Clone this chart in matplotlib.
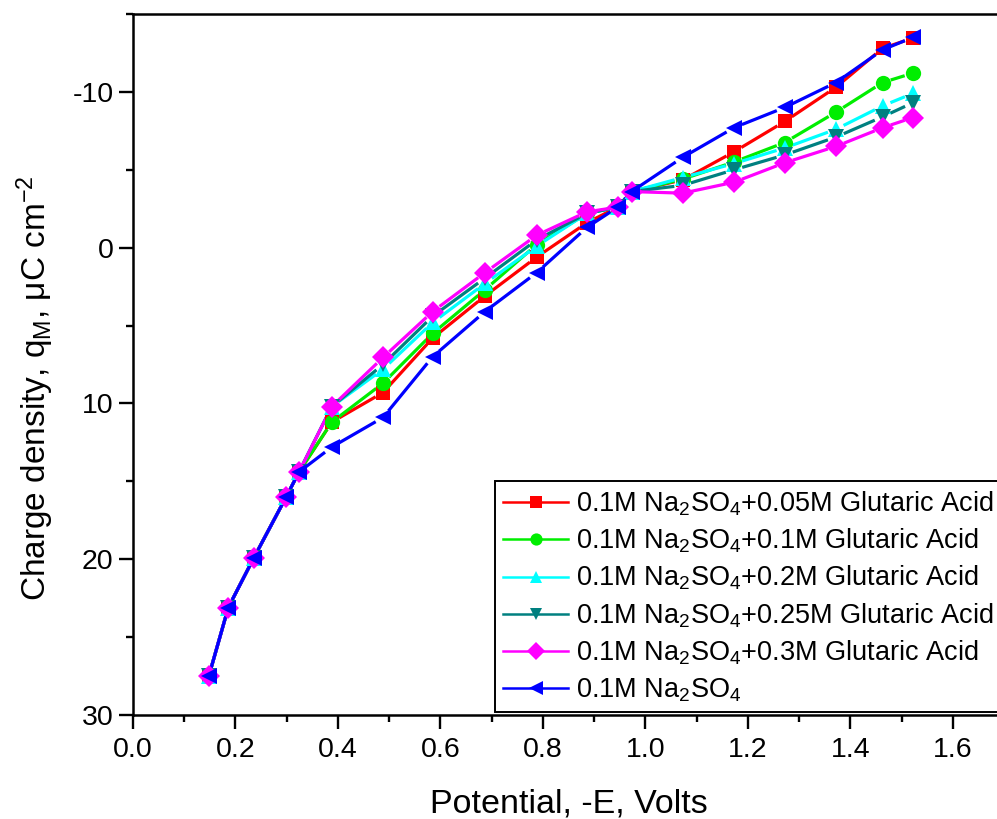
import matplotlib
matplotlib.use("Agg")
import numpy as np
import matplotlib.pyplot as plt
from matplotlib.ticker import MultipleLocator, FormatStrFormatter, FuncFormatter
from matplotlib.lines import Line2D

plt.rcParams['font.family'] = ['Liberation Sans', 'DejaVu Sans']
plt.rcParams['mathtext.fontset'] = 'custom'
plt.rcParams['mathtext.rm'] = 'Liberation Sans'
plt.rcParams['mathtext.it'] = 'Liberation Sans'
plt.rcParams['mathtext.default'] = 'regular'

potential = [0.148, 0.186, 0.236, 0.299, 0.324, 0.388, 0.488, 0.585, 0.687, 0.788,
             0.886, 0.946, 0.973, 1.073, 1.173, 1.272, 1.372, 1.463, 1.522]

q_005 = [27.5, 23.1, 19.9, 16.0, 14.4, 11.2, 9.3, 5.8, 3.1, 0.6,
         -1.6, -2.6, -3.6, -4.35, -6.15, -8.1, -10.3, -12.8, -13.45]
q_01 = [27.5, 23.1, 19.9, 16.0, 14.4, 11.2, 8.7, 5.5, 2.7, -0.2,
        -2.2, -2.6, -3.6, -4.4, -5.5, -6.75, -8.7, -10.6, -11.2]
q_02 = [27.5, 23.1, 19.9, 16.0, 14.4, 10.2, 7.8, 4.8, 2.3, -0.1,
        -2.2, -2.6, -3.6, -4.5, -5.4, -6.4, -7.6, -9.1, -9.9]
q_025 = [27.5, 23.1, 19.9, 16.0, 14.4, 10.2, 7.5, 4.4, 1.95, -0.5,
         -2.2, -2.6, -3.6, -4.0, -5.0, -5.95, -7.1, -8.4, -9.3]
q_03 = [27.5, 23.1, 19.9, 16.0, 14.4, 10.2, 7.05, 4.1, 1.6, -0.8,
        -2.3, -2.6, -3.6, -3.5, -4.2, -5.45, -6.5, -7.7, -8.35]
q_blank = [27.5, 23.1, 19.9, 16.0, 14.4, 12.8, 10.9, 7.0, 4.1, 1.6,
           -1.3, -2.6, -3.6, -5.8, -7.7, -9.0, -10.6, -12.7, -13.5]

labels = [
    '0.1M Na$_2$SO$_4$+0.05M Glutaric Acid',
    '0.1M Na$_2$SO$_4$+0.1M Glutaric Acid',
    '0.1M Na$_2$SO$_4$+0.2M Glutaric Acid',
    '0.1M Na$_2$SO$_4$+0.25M Glutaric Acid',
    '0.1M Na$_2$SO$_4$+0.3M Glutaric Acid',
    '0.1M Na$_2$SO$_4$',
]
series = [q_005, q_01, q_02, q_025, q_03, q_blank]
colors = ['#FF0000', '#00EE00', '#00FFFF', '#008080', '#FF00FF', '#0000FF']
markers = ['s', 'o', '^', 'v', 'D', '<']
msizes = [10, 11, 11.5, 11.5, 11.5, 12]

fig = plt.figure(figsize=(9.97, 8.19), dpi=100)
ax = fig.add_axes([133/997, 1-715/819, (1004-133)/997, (715-14)/819])

ax.set_xlim(0, 1.7)
ax.set_ylim(30, -15)

# lines broken slightly around each marker (Origin style)
gap_px = 8.5
to_disp = ax.transData
to_data = ax.transData.inverted()
for y, c in zip(series, colors):
    pts = to_disp.transform(np.column_stack([potential, y]))
    for p0, p1 in zip(pts[:-1], pts[1:]):
        d = p1 - p0
        L = np.hypot(*d)
        if L <= 2 * gap_px:
            continue
        u = d / L
        seg = to_data.transform(np.vstack([p0 + u * gap_px, p1 - u * gap_px]))
        ax.plot(seg[:, 0], seg[:, 1], color=c, linewidth=2.3,
                solid_capstyle='butt')

handles = []
for y, c, m, ms, lab in zip(series, colors, markers, msizes, labels):
    ax.plot(potential, y, linestyle='none', color=c, marker=m, markersize=ms,
            markeredgewidth=0)
    handles.append(Line2D([], [], color=c, marker=m, markersize=ms * 0.8,
                          markeredgewidth=0, linewidth=1.8, label=lab))

ax.xaxis.set_major_locator(MultipleLocator(0.2))
ax.xaxis.set_minor_locator(MultipleLocator(0.1))
ax.yaxis.set_major_locator(MultipleLocator(10))
ax.yaxis.set_minor_locator(MultipleLocator(5))
ax.xaxis.set_major_formatter(FormatStrFormatter('%.1f'))
ax.yaxis.set_major_formatter(FuncFormatter(lambda v, p: '%d' % v))

ax.tick_params(which='both', direction='out', width=1.7, labelsize=20.5,
               top=False, right=False)
ax.tick_params(which='major', length=10)
ax.tick_params(which='minor', length=5)
ax.tick_params(axis='x', which='major', pad=6)
ax.tick_params(axis='y', which='major', pad=4)
for s in ax.spines.values():
    s.set_linewidth(1.8)

ax.set_xlabel('Potential, -E, Volts', fontsize=24.5)
ax.xaxis.set_label_coords(0.5, -0.105)
ax.set_ylabel('Charge density, q$_M$, μC cm$^{-2}$', fontsize=24)
ax.yaxis.set_label_coords(-0.088, 0.466)

leg = ax.legend(handles=handles, loc='upper left',
                bbox_to_anchor=(495/997, 1-481/819),
                bbox_transform=fig.transFigure, fontsize=19.5, frameon=True,
                fancybox=False, edgecolor='black', handlelength=2.4,
                handletextpad=0.3, labelspacing=0.33, borderpad=0.3,
                borderaxespad=0, framealpha=1)
leg.get_frame().set_linewidth(1.4)

fig.savefig('out.png', dpi=100)
